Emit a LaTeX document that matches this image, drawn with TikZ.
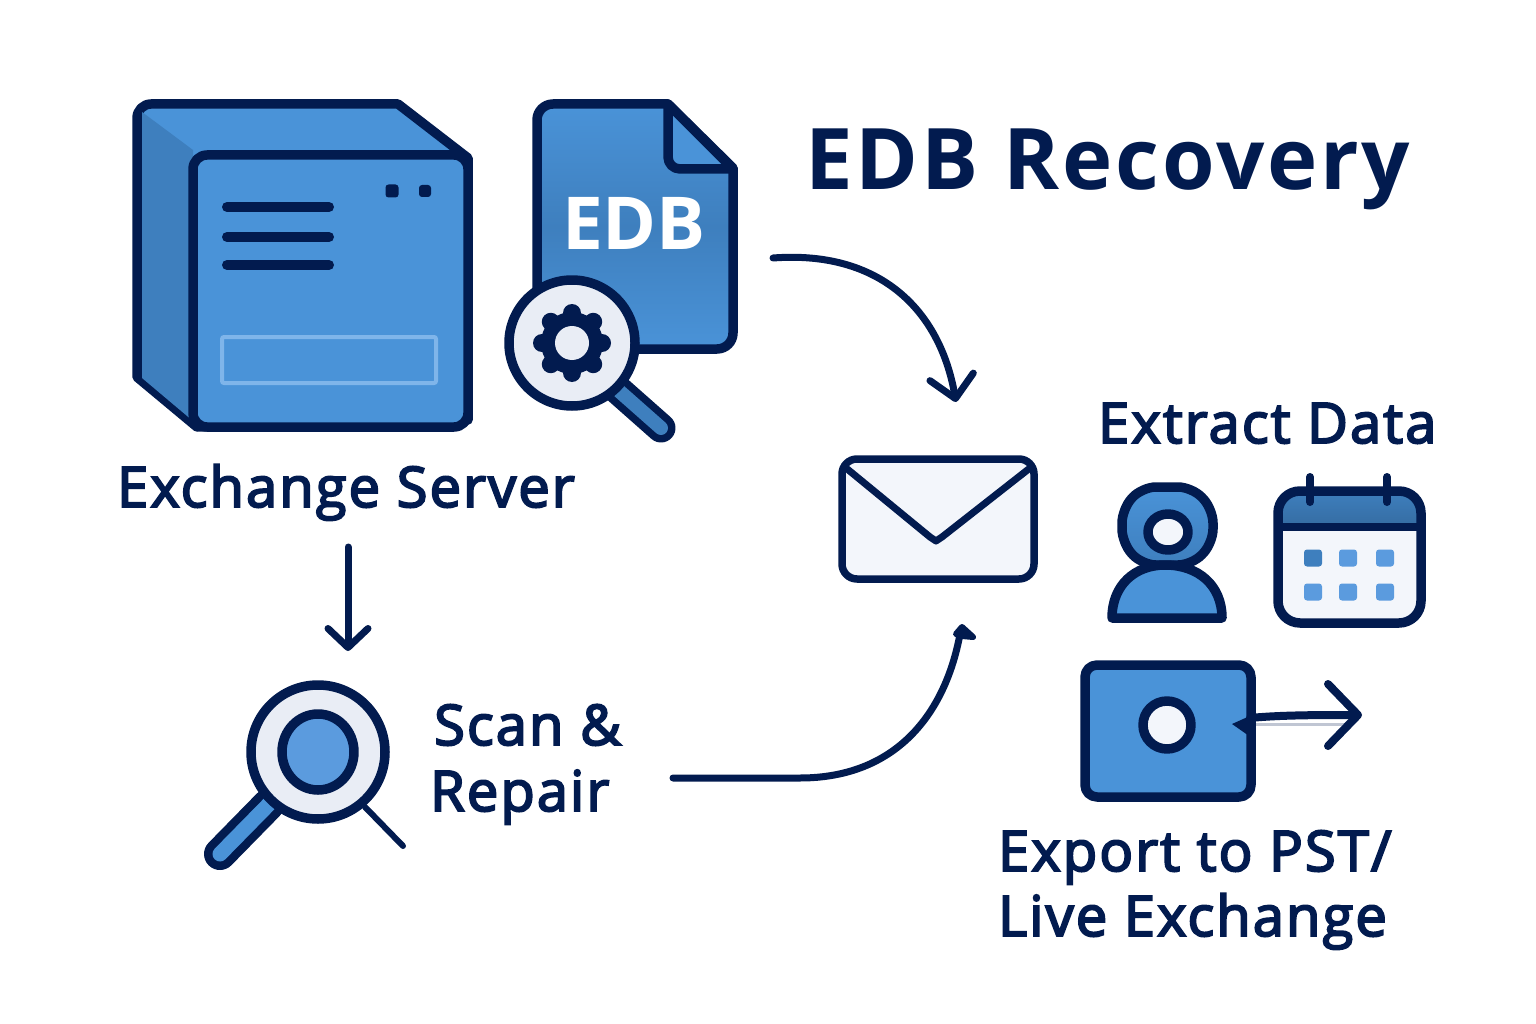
\documentclass[tikz,border=0pt]{standalone}
\usepackage{fontspec}
\setmainfont{Open Sans}
\newfontfamily\labelfont[FakeBold=3.5,LetterSpace=3.8]{Open Sans}
\usetikzlibrary{arrows.meta}
\definecolor{ink}{HTML}{021B4F}
\definecolor{blue}{HTML}{4A93D8}
\definecolor{bluedark}{HTML}{3E7FBE}
\definecolor{bluelight}{HTML}{5B9BDE}
\definecolor{pale}{HTML}{E9EDF5}
\definecolor{paper}{HTML}{F3F6FB}
\definecolor{rim}{HTML}{7FB5EA}
\tikzset{
  outline/.style={draw=ink,line width=9.5pt,line join=round},
  txt/.style={text=ink,inner sep=0pt,anchor=base west,font=\labelfont\fontsize{56}{56}\selectfont},
  flow/.style={draw=ink,line width=7pt,line cap=round,-{Straight Barb[round,length=19pt,width=40pt]}},
  bar/.style={draw=ink,line width=10pt,line cap=round},
}
\begin{document}
\begin{tikzpicture}[x=1pt,y=-1pt]
\useasboundingbox[fill=white] (0,0) rectangle (1536,1024);
% Server
\path[outline,fill=blue] (137,377) [rounded corners=14pt] -- (137,104) [sharp corners] -- (398,104) -- (468,158) -- (468,420) -- (197,427) -- cycle;
\fill[bluedark] (142,112) -- (193,150) -- (193,421) -- (142,378) -- cycle;
\path[outline,fill=blue,rounded corners=14pt] (193,155) rectangle (468,427);
\foreach \y in {207,237,265} \draw[bar] (227,\y) -- (329,\y);
\fill[ink,rounded corners=3pt] (385.5,184.5) rectangle (398.5,197.5);
\fill[ink,rounded corners=3pt] (419,185) rectangle (431,197);
\draw[rim,line width=4pt,rounded corners=2pt] (222,337) rectangle (436,383);
% EDB file
\path[outline,top color=blue,bottom color=blue,middle color=bluedark] (668,104) -- (733,168) [rounded corners=16pt] -- (733,349) -- (537,349) -- (537,104) [sharp corners] -- cycle;
\path[fill=blue,draw=ink,line width=9.5pt,line join=round] (668,104) [rounded corners=12pt] -- (668,169) [sharp corners] -- (733,169) -- cycle;
\node[inner sep=0pt,text=white,anchor=base,font=\bfseries\fontsize{73}{73}\selectfont] (edbtag) at (634,250) {EDB};
% magnifier on the file
\draw[ink,line width=29pt,line cap=round] (618,390) -- (661,428);
\draw[bluedark,line width=14pt,line cap=round] (618,390) -- (661,428);
\path[outline,fill=pale] (572,343) circle[radius=63];
\begin{scope}[shift={(572,343)}]
  \fill[ink] (0,0) circle[radius=31];
  \foreach \a in {0,45,...,315} \draw[ink,line width=18pt,line cap=round] (0,0) -- (\a:30);
  \fill[pale] (0,0) circle[radius=17];
\end{scope}
% Scan magnifier
\draw[ink,line width=6pt,line cap=round] (365,807) -- (403,846);
\draw[ink,line width=32pt,line cap=round] (268,805) -- (220,854);
\draw[blue,line width=15pt,line cap=round] (272,801) -- (220,854);
\path[outline,fill=pale] (318,752) circle[radius=67];
\path[outline,fill=bluelight] (318,752) ellipse[x radius=36,y radius=38];
% Envelope
\path[outline,fill=paper,line width=7.5pt,rounded corners=15pt] (842,459) rectangle (1034,579);
\path[draw=ink,line width=7pt,line join=round] (846,468) -- (930,537) -- (936,541) -- (942,537) -- (1030,468);
% Person
\path[outline,top color=blue,bottom color=bluedark,rounded corners=14pt] (1167,487) -- (1192,487) -- (1213,509) -- (1213,543) -- (1192,565) -- (1142,565) -- (1122,543) -- (1122,509) -- (1142,487) -- cycle;
\path[outline,fill=paper] (1168,532) ellipse[x radius=20,y radius=18];
\path[outline,fill=blue] (1112,618) .. controls (1112,585) and (1135,565) .. (1165,565) .. controls (1198,565) and (1222,585) .. (1222,618) -- cycle;
% Calendar
\path[fill=paper,rounded corners=22pt] (1278,491) rectangle (1421,623);
\path[top color=bluedark,bottom color=bluedark!85!black] (1278,527) [rounded corners=22pt] -- (1278,491) -- (1421,491) [sharp corners] -- (1421,527) -- cycle;
\path[outline,rounded corners=22pt] (1278,491) rectangle (1421,623);
\draw[ink,line width=8.5pt] (1278,527) -- (1421,527);
\foreach \x in {1310,1387} \draw[ink,line width=8pt,line cap=round] (\x,477) -- (\x,502);
\foreach \x/\y/\c in {1313/558/bluedark,1348/558/bluelight,1385/558/bluelight,1313/592/bluelight,1348/592/bluelight,1385/592/bluelight}
  \fill[\c,rounded corners=3pt] (\x-9,\y-8.5) rectangle (\x+9,\y+8.5);
% Export box
\path[outline,fill=blue,rounded corners=12pt] (1085,665) rectangle (1251,797);
\path[outline,fill=paper] (1167,725) circle[radius=24];
\draw[color=ink!25,line width=3pt] (1256,724) -- (1348,724);
% Named anchors
\coordinate (fromfile) at (773,258);
\coordinate (tomail) at (956,402);
\coordinate (fromserver) at (348,547);
\coordinate (toscan) at (348,651);
\coordinate (fromscan) at (673,778);
\coordinate (scanbend) at (800,778);
\coordinate (mailin) at (960,634);
\coordinate (exportout) at (1232,724);
\coordinate (exporttip) at (1362,715);
% Connectors
\draw[flow,-{Straight Barb[round,length=22pt,width=44pt]}] (fromfile) .. controls (880,250) and (940,310) .. (tomail);
\draw[flow] (fromserver) -- (toscan);
\draw[draw=ink,line width=7pt,line cap=round] (fromscan) -- (scanbend) .. controls (895,778) and (945,715) .. (mailin);
\path[draw=ink,fill=ink,line width=6pt,line join=round] (956,634) -- (962,627) -- (973,637) -- (962,636) -- cycle;
\fill[ink] (exportout) -- (1252,715) -- (1252,738) -- cycle;
\draw[draw=ink,line width=8pt,line cap=round,-{Straight Barb[round,length=30pt,width=62pt]}] (1250,718) .. controls (1280,715) and (1320,715) .. (exporttip);
% Text
\node[txt,font=\bfseries\addfontfeature{LetterSpace=3.4}\fontsize{85}{85}\selectfont] (title) at (805,190) {EDB Recovery};
\node[txt] (serverlabel) at (117,507) {Exchange Server};
\node[txt] (extractlabel) at (1098,443) {Extract Data};
\node[txt] (scanlabel) at (434,745) {Scan \&};
\node[txt] (repairlabel) at (430,811) {Repair};
\node[txt] (exportlabel) at (998,871) {Export to PST/};
\node[txt] (livelabel) at (998,936) {Live Exchange};
\end{tikzpicture}
\end{document}
